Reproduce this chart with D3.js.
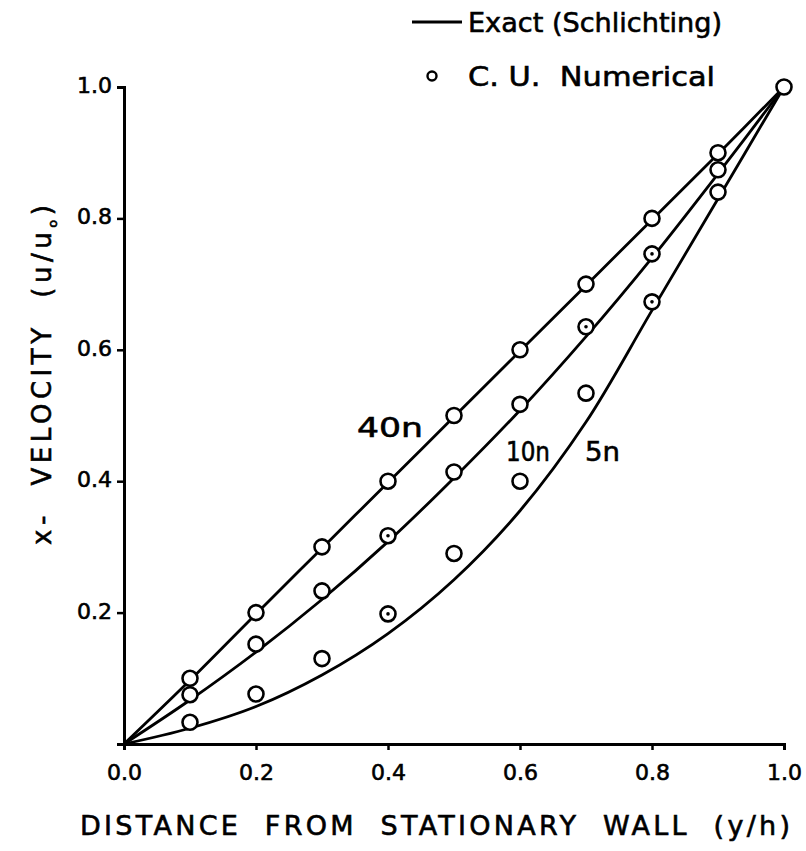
<!DOCTYPE html>
<html>
<head>
<meta charset="utf-8">
<script src="https://cdn.jsdelivr.net/npm/d3@7"></script>
<style>
  body { margin: 0; background: #fff; }
  text { font-family: "DejaVu Sans", "Liberation Sans", sans-serif; fill: #000; stroke: #000; stroke-width: 0.6px; }
</style>
</head>
<body>
<script>
// y/h positions
var xs = [0, 0.1, 0.2, 0.3, 0.4, 0.5, 0.6, 0.7, 0.8, 0.9, 1.0];

// exact (Schlichting) curves
var exact40 = [0, 0.097, 0.198, 0.298, 0.398, 0.498, 0.598, 0.698, 0.798, 0.898, 1.0];
var exact10 = [0, 0.067, 0.14, 0.22, 0.308, 0.405, 0.508, 0.62, 0.74, 0.868, 1.0];
var exact5  = [0, 0.024, 0.057, 0.105, 0.168, 0.25, 0.355, 0.49, 0.66, 0.83, 1.0];

// C.U. numerical points
var numX   = [0.1, 0.2, 0.3, 0.4, 0.5, 0.6, 0.7, 0.8, 0.9];
var num40  = [0.10, 0.20, 0.30, 0.40, 0.50, 0.60, 0.70, 0.80, 0.90];
var num10  = [0.075, 0.152, 0.233, 0.317, 0.414, 0.517, 0.635, 0.746, 0.874];
var num5   = [0.033, 0.076, 0.13, 0.198, 0.29, 0.40, 0.534, 0.673, 0.84];
// which circles have a dot in the middle
var dot10  = [0, 0, 0, 1, 0, 0, 1, 1, 0];
var dot5   = [0, 0, 0, 1, 0, 0, 0, 1, 0];

var xTicks = [0, 0.2, 0.4, 0.6, 0.8, 1.0];
var yTicks = [0.2, 0.4, 0.6, 0.8, 1.0];

var width = 806, height = 851;
var svg = d3.select("body").append("svg")
    .attr("width", width)
    .attr("height", height);

var x = d3.scaleLinear().domain([0, 1]).range([124, 784]);
var y = d3.scaleLinear().domain([0, 1]).range([744, 87]);

// axes
var xAxis = svg.append("g")
    .attr("transform", "translate(0," + y(0) + ")")
    .call(d3.axisBottom(x).tickValues(xTicks).tickSize(6).tickPadding(14)
      .tickFormat(d3.format(".1f")));
var yAxis = svg.append("g")
    .attr("transform", "translate(" + x(0) + ",0)")
    .call(d3.axisLeft(y).tickValues(yTicks).tickSize(7).tickPadding(5)
      .tickFormat(d3.format(".1f")));

[xAxis, yAxis].forEach(function(g) {
  g.select(".domain").attr("stroke", "#000").attr("stroke-width", 3);
  g.selectAll(".tick line").attr("stroke", "#000").attr("stroke-width", 2.5);
  g.selectAll(".tick text")
    .style("font-family", "'DejaVu Sans', sans-serif")
    .style("font-size", "22px")
    .attr("fill", "#000");
});
yAxis.selectAll(".tick text").attr("dy", "0.25em");

// exact curves
var line = d3.line()
    .x(function(d) { return x(d[0]); })
    .y(function(d) { return y(d[1]); })
    .curve(d3.curveCatmullRom);

[exact40, exact10, exact5].forEach(function(vals) {
  svg.append("path")
    .datum(xs.map(function(v, i) { return [v, vals[i]]; }))
    .attr("d", line)
    .attr("fill", "none")
    .attr("stroke", "#000")
    .attr("stroke-width", 2.8);
});

// numerical points
function drawPoints(vals, dots) {
  var pts = numX.map(function(v, i) { return [v, vals[i], dots ? dots[i] : 0]; });
  svg.append("g").selectAll("circle")
    .data(pts)
    .enter().append("circle")
    .attr("cx", function(d) { return x(d[0]); })
    .attr("cy", function(d) { return y(d[1]); })
    .attr("r", 7.5)
    .attr("fill", "#fff")
    .attr("stroke", "#000")
    .attr("stroke-width", 2.6);
  svg.append("g").selectAll("circle")
    .data(pts.filter(function(d) { return d[2]; }))
    .enter().append("circle")
    .attr("cx", function(d) { return x(d[0]); })
    .attr("cy", function(d) { return y(d[1]); })
    .attr("r", 1.8)
    .attr("fill", "#000");
}
drawPoints(num40, null);
drawPoints(num10, dot10);
drawPoints(num5, dot5);

// end point at (1,1)
svg.append("circle")
  .attr("cx", x(1)).attr("cy", y(1)).attr("r", 7.5)
  .attr("fill", "#fff").attr("stroke", "#000").attr("stroke-width", 2.6);

// curve labels
var labels = [["40n", 357, 437, 66], ["10n", 506, 461, 44], ["5n", 585, 461, 35]];
labels.forEach(function(l) {
  svg.append("text")
    .attr("x", l[1]).attr("y", l[2])
    .attr("textLength", l[3])
    .attr("lengthAdjust", "spacingAndGlyphs")
    .style("font-size", "27px")
    .text(l[0]);
});

// legend
svg.append("line")
  .attr("x1", 412).attr("x2", 462).attr("y1", 22).attr("y2", 22)
  .attr("stroke", "#000").attr("stroke-width", 3);
svg.append("text").attr("x", 468).attr("y", 32)
  .attr("textLength", 254).attr("lengthAdjust", "spacingAndGlyphs")
  .style("font-size", "27px").text("Exact (Schlichting)");
svg.append("circle").attr("cx", 432).attr("cy", 76).attr("r", 4.5)
  .attr("fill", "#fff").attr("stroke", "#000").attr("stroke-width", 2.4);
svg.append("text").attr("x", 468).attr("y", 86)
  .attr("textLength", 247).attr("lengthAdjust", "spacingAndGlyphs")
  .style("font-size", "27px").attr("xml:space", "preserve")
  .text("C. U.  Numerical");

// axis titles
svg.append("text")
  .attr("x", 80).attr("y", 835)
  .attr("textLength", 710).attr("lengthAdjust", "spacing")
  .style("font-size", "27px")
  .attr("xml:space", "preserve")
  .text("DISTANCE  FROM  STATIONARY  WALL  (y/h)");

var yt = svg.append("text")
  .attr("transform", "translate(51,545) rotate(-90)")
  .attr("textLength", 340).attr("lengthAdjust", "spacing")
  .style("font-size", "26px")
  .attr("xml:space", "preserve");
yt.append("tspan").text("x-  VELOCITY  (u/u");
yt.append("tspan").attr("dy", 6).style("font-size", "13px").text("o");
yt.append("tspan").attr("dy", -6).text(")");
</script>
</body>
</html>
